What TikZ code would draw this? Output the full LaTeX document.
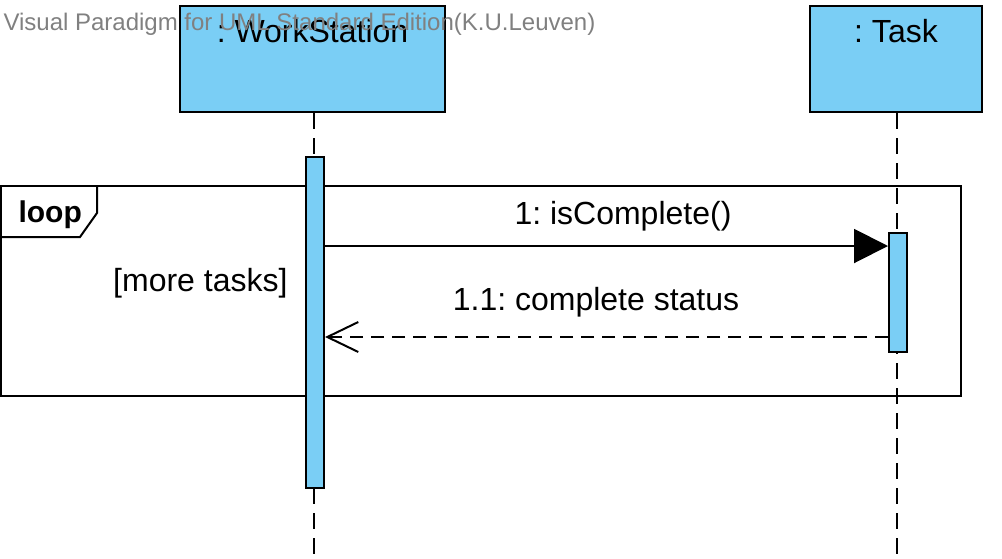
\documentclass[tikz,border=0pt]{standalone}
\usepackage{fontspec}
\setmainfont{Liberation Sans}
\usetikzlibrary{arrows.meta}
\usetikzlibrary{positioning}
\frenchspacing
\definecolor{barblue}{RGB}{122,206,245}
\definecolor{markgray}{RGB}{128,128,128}
\tikzstyle{objbox}=[draw, fill=barblue, line width=2, inner sep=0, minimum height=106, anchor=north]
\tikzstyle{actbar}=[draw, fill=barblue, line width=2, inner sep=0, minimum width=18, anchor=north]
\tikzstyle{lifeline}=[line width=2, dash pattern=on 16pt off 9pt]
\tikzstyle{callarrow}=[-{Triangle[length=34, width=34]}, line width=2]
\tikzstyle{replyarrow}=[-{Straight Barb[length=31, width=30]}, line width=2, dash pattern=on 13pt off 8pt]

\begin{document}
\begin{tikzpicture}[x=1pt, y=-1pt, font=\fontsize{32}{36}\selectfont]
    \useasboundingbox (0, 0) rectangle (1002, 558) ;
    %\draw[help lines, step=50] (0, 0) grid (1002, 558) ;
    \node[draw, line width=2, inner sep=0, minimum width=960, minimum height=210, anchor=north west] (loopframe) at (0, 185) {} ;
    \draw[line width=2] (0, 237) -- (80, 237) -- (97, 213) -- (97, 185) ;
    \node[anchor=base west, font=\bfseries\fontsize{30}{36}\selectfont] (looptag) at (15, 222) {loop} ;
    \node[anchor=base east] (guard) at (291, 291) {[more tasks]} ;
    % lifeline heads
    \node[objbox, minimum width=265] (wsbox) at (312.5, 5) {} ;
    \node[objbox, minimum width=172] (taskbox) at (896, 5) {} ;
    \node[anchor=base] (wsname) at (wsbox.north |- 0, 42) {: WorkStation} ;
    \node[anchor=base] (taskname) at (taskbox.north |- 0, 42) {: Task} ;
    \coordinate (wsend) at (314, 558) ;
    \coordinate (taskend) at (897, 558) ;
    \draw[lifeline] (wsbox.south -| wsend) -- (wsend) ;
    \draw[lifeline] (taskbox.south -| taskend) -- (taskend) ;
    % activations
    \node[actbar, minimum height=331] (wsbar) at (315, 156) {} ;
    \node[actbar, minimum height=119] (taskbar) at (898, 232) {} ;
    \coordinate (calltip) at ([yshift=-14pt]taskbar.north west) ;
    \coordinate (replytip) at (wsbar.east |- 0, 337) ;
    \draw[callarrow] (wsbar.east |- calltip) -- (calltip) ;
    \draw[replyarrow] (taskbar.west |- replytip) -- (replytip) ;
    \node[anchor=base] (callmsg) at (623, 224) {1: isComplete()} ;
    \node[anchor=base] (replymsg) at (596, 310) {1.1: complete status} ;
    \node[anchor=base west, text=markgray, font=\fontsize{24}{28}\selectfont] (mark) at (0, 30) {Visual Paradigm for UML Standard Edition(K.U.Leuven)} ;
\end{tikzpicture}
\end{document}
